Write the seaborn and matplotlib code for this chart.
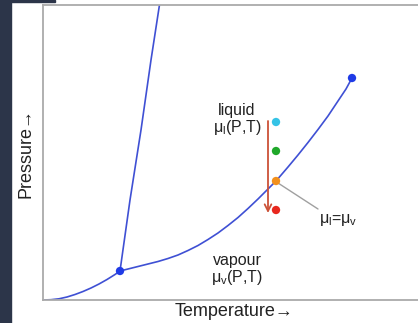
import matplotlib
matplotlib.use("Agg")
import matplotlib.pyplot as plt
from matplotlib.patches import Rectangle
import seaborn as sns

# Phase diagram curves (arbitrary temperature / pressure units)
subl_T = [0, 8, 16, 24, 32, 40, 48, 56, 64, 72, 77]
subl_P = [0, 0.3, 1.2, 3, 5.5, 8.5, 12, 16, 20.5, 25.5, 29]

vap_T = [77, 85, 95, 105, 115, 125, 135, 145, 155, 165, 175, 185, 195, 205,
         215, 225, 233, 245, 255, 265, 275, 285, 295, 303, 309]
vap_P = [29, 31, 33.5, 36, 38.5, 41.5, 45, 49.5, 54.5, 60.5, 67, 74.5, 82.5,
         91.5, 101, 111, 119, 133, 145, 157.5, 170.5, 184, 199, 211, 222]

melt_T = [77, 87, 98, 108, 118]
melt_P = [29, 100, 170, 240, 305]

triple = (77, 29)
critical = (309, 222)

# States on the isotherm
state_T = [233, 233, 233, 233]
state_P = [178, 149, 119, 90]
state_colors = ["#35c3e6", "#1fa82a", "#f2901c", "#e8281e"]

arrow_T = 225
arrow_P = (179, 87)

sns.set_theme(style="white")
plt.rcParams["font.family"] = ["Liberation Sans", "DejaVu Sans"]
plt.rcParams["mathtext.fontset"] = "custom"
plt.rcParams["mathtext.rm"] = "Liberation Sans"
plt.rcParams["mathtext.it"] = "Liberation Sans"
plt.rcParams["mathtext.sf"] = "Liberation Sans"

fig = plt.figure(figsize=(4.18, 3.23), dpi=100)
fig.patch.set_facecolor("white")
fig.patches.append(Rectangle((0, 0), 11 / 418, 1, transform=fig.transFigure,
                             color="#2c3549", zorder=0))
fig.patches.append(Rectangle((0, 1 - 1.5 / 323), 55 / 418, 1.5 / 323,
                             transform=fig.transFigure, color="#2c3549", zorder=0))

ax = fig.add_axes([43 / 418, 23 / 323, 382 / 418, 295 / 323])
ax.set_xlim(0, 382)
ax.set_ylim(0, 295)

line_color = "#3f50d4"
for T, P in [(subl_T, subl_P), (vap_T, vap_P), (melt_T, melt_P)]:
    sns.lineplot(x=T, y=P, sort=False, estimator=None, color=line_color,
                 linewidth=1.2, ax=ax)

sns.scatterplot(x=[triple[0], critical[0]], y=[triple[1], critical[1]],
                color="#1f3be6", s=36, edgecolor="none", ax=ax, zorder=5)

# isothermal compression arrow
ax.annotate("", xy=(arrow_T, arrow_P[1]), xytext=(arrow_T, arrow_P[0]),
            arrowprops=dict(arrowstyle="->", color="#cc5238", lw=1.3,
                            shrinkA=0, shrinkB=0, mutation_scale=12))

sns.scatterplot(x=state_T, y=state_P, hue=list(range(4)), palette=state_colors,
                s=36, edgecolor="none", legend=False, ax=ax, zorder=6)

# pointer to the coexistence state
ax.plot([235, 275], [117, 91], color="#a0a0a0", lw=1.0)

ax.text(194, 180, "liquid\n$\\mu_{l}$(P,T)", ha="center", va="center",
        fontsize=11.5, linespacing=1.05, color="#222222")
ax.text(194, 30, "vapour\n$\\mu_{v}$(P,T)", ha="center", va="center",
        fontsize=11.5, linespacing=1.05, color="#222222")
ax.text(276, 80, "$\\mu_{l}$=$\\mu_{v}$", ha="left", va="center",
        fontsize=11.5, color="#222222")

ax.set_xlabel("Temperature→", fontsize=13, color="#222222", labelpad=2)
ax.set_ylabel("Pressure→", fontsize=13, color="#222222", labelpad=6)
ax.set_xticks([])
ax.set_yticks([])

for side in ["left", "top", "bottom"]:
    ax.spines[side].set_color("#aaaaaa")
    ax.spines[side].set_linewidth(1.3)
ax.spines["right"].set_visible(False)

fig.savefig("out.png", dpi=100, facecolor="white")
